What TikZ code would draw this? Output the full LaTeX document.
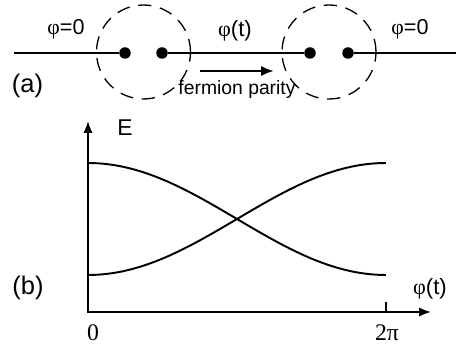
\documentclass[tikz,border=0pt]{standalone}
\usepackage{fontspec}
\setmainfont{Liberation Sans}
\newfontfamily\grk{Liberation Serif}
\usetikzlibrary{arrows.meta,positioning}
\newcommand{\ph}{{\grk φ}}
\tikzset{
  wire/.style={line width=1.5pt},
  dot/.style={circle,fill,inner sep=0pt,minimum size=0.23cm},
  halo/.style={circle,draw,dash pattern=on 7.5pt off 5pt,line width=0.75pt,minimum size=1.88cm,inner sep=0pt},
  axis/.style={line width=1.2pt},
  tip/.style={-{Latex[length=2.6mm,width=2.1mm]}},
  level/.style={line width=1.1pt},
  lbl/.style={font=\fontsize{12.3}{15}\selectfont,inner sep=0pt},
  small/.style={lbl,font=\fontsize{11}{13}\selectfont},
  big/.style={lbl,font=\fontsize{12.6}{15}\selectfont},
  tag/.style={lbl,font=\fontsize{14.5}{17}\selectfont},
  num/.style={lbl,font=\fontsize{13.5}{16}\selectfont\grk}
}

\begin{document}
\begin{tikzpicture}[x=0.02cm,y=-0.02cm]
  \useasboundingbox (0,0) rectangle (456,350);
  % (a) wire with the two junctions
  \node[halo] (hl) at (143.5,52) {};
  \node[halo] (hr) at (329,52) {};
  \node[dot] (d1) at (125,53) {};
  \node[dot] (d2) at (162,53) {};
  \node[dot] (d3) at (310,53) {};
  \node[dot] (d4) at (348,53) {};
  \coordinate (lend) at (14,53);
  \coordinate (rend) at (456,53);
  \draw[wire] (lend) -- (d1);
  \draw[wire] (d2) -- (d3);
  \draw[wire] (d4) -- (rend);
  \node[lbl] (p0l) at (66,29) {\ph=0};
  \node[big] (pt) at (235,31) {\ph(t)};
  \node[lbl] (p0r) at (410,29) {\ph=0};
  \node[tag] (la) at (27.5,86) {(a)};
  \coordinate (fs) at (200,71);
  \coordinate (fe) at (274,71);
  \draw[wire,tip] (fs) -- (fe);
  \node[small] (fp) at (237,90) {fermion parity};
  % (b) energy levels
  \coordinate (O) at (88,312);
  \coordinate (ytop) at (88,121);
  \coordinate (xend) at (431,312);
  \coordinate (tk) at (386,312);
  \coordinate (tkt) at (386,302);
  \draw[axis,{Latex[length=2.4mm,width=1.9mm]}-{Latex[length=2.4mm,width=1.9mm]}] (ytop) -- (O) -- (xend);
  \draw[axis] (tk) -- (tkt);
  \draw[level] plot[domain=0:1,samples=60] ({88+298*\x},{219-56*cos(180*\x)});
  \draw[level] plot[domain=0:1,samples=60] ({88+298*\x},{219+56*cos(180*\x)});
  \node[big,font=\fontsize{13}{15}\selectfont] (E) at (125,128) {E};
  \node[tag] (lb) at (28,288) {(b)};
  \node[big] (px) at (430,289) {\ph(t)};
  \node[num] (n0) at (93,333) {0};
  \node[num] (n2) at (387,333) {2π};
\end{tikzpicture}
\end{document}
